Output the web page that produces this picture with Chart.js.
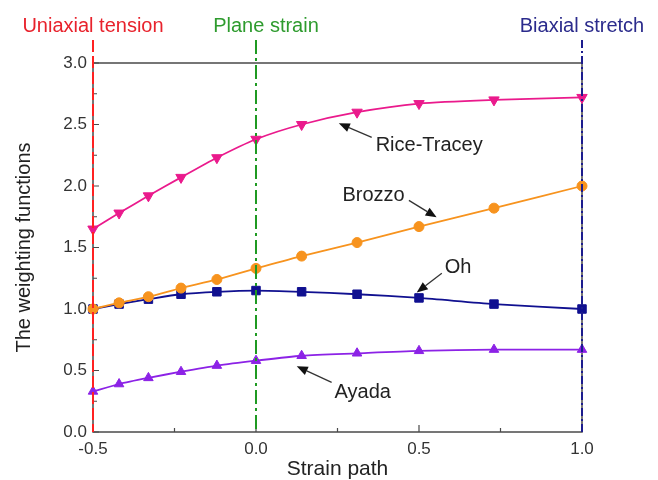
<!DOCTYPE html>
<html>
<head>
<meta charset="utf-8">
<script src="https://cdn.jsdelivr.net/npm/chart.js@4.4.1/dist/chart.umd.min.js"></script>
<style>
  html, body { margin: 0; padding: 0; background: #fff; }
  #wrap { width: 658px; height: 480px; }
</style>
</head>
<body>
<div id="wrap"><canvas id="myChart"></canvas></div>
<script>
//************* data ******************* */
// strain path positions shared by all four weighting functions
const strainPath = [-0.5, -0.42, -0.33, -0.23, -0.12, 0.0, 0.14, 0.31, 0.5, 0.73, 1.0];
const riceTracey = [1.65, 1.78, 1.92, 2.07, 2.23, 2.38, 2.50, 2.60, 2.67, 2.70, 2.72];
const brozzo = [1.0, 1.05, 1.10, 1.17, 1.24, 1.33, 1.43, 1.54, 1.67, 1.82, 2.0];
const oh = [1.0, 1.04, 1.08, 1.12, 1.14, 1.15, 1.14, 1.12, 1.09, 1.04, 1.0];
const ayada = [0.33, 0.39, 0.44, 0.49, 0.54, 0.58, 0.62, 0.64, 0.66, 0.67, 0.67];

const xTicks = [-0.5, 0.0, 0.5, 1.0];
const yTicks = [0.0, 0.5, 1.0, 1.5, 2.0, 2.5, 3.0];

// vertical markers for the three reference strain states
const refNames = ["Uniaxial tension", "Plane strain", "Biaxial stretch"];
const refX = [-0.5, 0.0, 1.0];
const refColors = ["#ff2121", "#1f9a22", "#1c1c8e"];
const refTextColors = ["#e8222c", "#2e9b2e", "#2b2b8c"];

// curve labels with arrows (data coordinates)
const noteText = ["Rice-Tracey", "Brozzo", "Oh", "Ayada"];
const noteAt = [[0.367, 2.33], [0.265, 1.924], [0.579, 1.339], [0.241, 0.323]];
const arrowFrom = [[0.355, 2.395], [0.469, 1.883], [0.570, 1.29], [0.232, 0.404]];
const arrowTo = [[0.254, 2.51], [0.554, 1.745], [0.493, 1.135], [0.125, 0.534]];
//********************************************** */

const FONT = "'Liberation Sans', Arial, sans-serif";

const toXY = (ys) => strainPath.map((x, i) => ({ x: x, y: ys[i] }));

// frame box and inward tick marks
const frameTicks = {
  id: "frameTicks",
  beforeDatasetsDraw(chart) {
    const { ctx, chartArea: a, scales: { x, y } } = chart;
    ctx.save();
    ctx.strokeStyle = "#4a4a4a";
    ctx.lineWidth = 1.5;
    ctx.strokeRect(a.left, a.top, a.right - a.left, a.bottom - a.top);
    ctx.lineWidth = 1.2;
    ctx.beginPath();
    for (let v = 0; v <= 3.001; v += 0.25) {
      const py = y.getPixelForValue(v);
      const len = Math.abs(v * 2 - Math.round(v * 2)) < 1e-6 ? 6 : 4;
      ctx.moveTo(a.left, py);
      ctx.lineTo(a.left + len, py);
    }
    for (let v = -0.5; v <= 1.001; v += 0.25) {
      const px = x.getPixelForValue(v);
      const len = Math.abs(v * 2 - Math.round(v * 2)) < 1e-6 ? 7 : 4;
      ctx.moveTo(px, a.bottom);
      ctx.lineTo(px, a.bottom - len);
    }
    ctx.stroke();
    ctx.restore();
  },
};

// reference lines, their titles and the curve labels
const overlays = {
  id: "overlays",
  afterDatasetsDraw(chart) {
    const { ctx, chartArea: a, scales: { x, y } } = chart;
    const dashes = [[12, 4], [14, 4, 3, 4], [8, 3, 2, 3]];
    ctx.save();
    refX.forEach((v, i) => {
      const px = x.getPixelForValue(v);
      ctx.strokeStyle = refColors[i];
      ctx.lineWidth = 2;
      ctx.setLineDash(dashes[i]);
      ctx.beginPath();
      ctx.moveTo(px, 40);
      ctx.lineTo(px, a.bottom);
      ctx.stroke();
      ctx.setLineDash([]);
      ctx.fillStyle = refTextColors[i];
      ctx.font = "20px " + FONT;
      ctx.textAlign = "center";
      ctx.textBaseline = "middle";
      ctx.fillText(refNames[i], px + (i == 1 ? 10 : 0), 26);
    });

    ctx.font = "20px " + FONT;
    ctx.textAlign = "left";
    ctx.textBaseline = "middle";
    noteText.forEach((t, i) => {
      ctx.fillStyle = "#222";
      ctx.fillText(t, x.getPixelForValue(noteAt[i][0]), y.getPixelForValue(noteAt[i][1]));
      const x0 = x.getPixelForValue(arrowFrom[i][0]), y0 = y.getPixelForValue(arrowFrom[i][1]);
      const x1 = x.getPixelForValue(arrowTo[i][0]), y1 = y.getPixelForValue(arrowTo[i][1]);
      const ang = Math.atan2(y1 - y0, x1 - x0);
      const head = 11, half = 4.5;
      const bx = x1 - head * Math.cos(ang), by = y1 - head * Math.sin(ang);
      ctx.strokeStyle = "#333";
      ctx.lineWidth = 1.3;
      ctx.beginPath();
      ctx.moveTo(x0, y0);
      ctx.lineTo(bx, by);
      ctx.stroke();
      ctx.fillStyle = "#111";
      ctx.beginPath();
      ctx.moveTo(x1, y1);
      ctx.lineTo(bx + half * Math.sin(ang), by - half * Math.cos(ang));
      ctx.lineTo(bx - half * Math.sin(ang), by + half * Math.cos(ang));
      ctx.closePath();
      ctx.fill();
    });
    ctx.restore();
  },
};

const series = (label, ys, color, style, radius, rotation) => ({
  label: label,
  data: toXY(ys),
  borderColor: color,
  backgroundColor: color,
  borderWidth: 1.8,
  pointStyle: style,
  pointRadius: radius,
  pointRotation: rotation || 0,
  pointBorderWidth: 1,
  tension: 0.25,
  clip: false,
});

const config = {
  type: "line",
  data: {
    datasets: [
      series("Rice-Tracey", riceTracey, "#ea1a8c", "triangle", 6, 180),
      series("Brozzo", brozzo, "#f7931e", "circle", 5),
      series("Oh", oh, "#101090", "rect", 6),
      series("Ayada", ayada, "#8c22e6", "triangle", 5.5),
    ],
  },
  options: {
    responsive: true,
    maintainAspectRatio: false,
    animation: false,
    layout: { padding: { left: 0, right: 76, top: 63, bottom: 0 } },
    plugins: { legend: { display: false }, tooltip: { enabled: false } },
    scales: {
      x: {
        type: "linear",
        min: -0.5,
        max: 1.0,
        afterBuildTicks: (s) => { s.ticks = xTicks.map((v) => ({ value: v })); },
        afterFit: (s) => { s.height = 48; },
        grid: { display: false, drawTicks: false },
        border: { display: false },
        ticks: {
          padding: 7,
          color: "#333",
          font: { family: FONT, size: 17 },
          callback: (v) => v.toFixed(1),
        },
        title: {
          display: true,
          text: "Strain path",
          color: "#222",
          font: { family: FONT, size: 21, lineHeight: 1 },
          padding: 0,
        },
      },
      y: {
        min: 0,
        max: 3.0,
        afterBuildTicks: (s) => { s.ticks = yTicks.map((v) => ({ value: v })); },
        afterFit: (s) => { s.width = 93; },
        grid: { display: false, drawTicks: false },
        border: { display: false },
        ticks: {
          padding: 6,
          color: "#333",
          font: { family: FONT, size: 17 },
          callback: (v) => v.toFixed(1),
        },
        title: {
          display: true,
          text: "The weighting functions",
          color: "#222",
          font: { family: FONT, size: 20, lineHeight: 1 },
          padding: { top: 14, bottom: 0 },
        },
      },
    },
  },
  plugins: [frameTicks, overlays],
};

const myChart = new Chart(document.getElementById("myChart"), config);
</script>
</body>
</html>
